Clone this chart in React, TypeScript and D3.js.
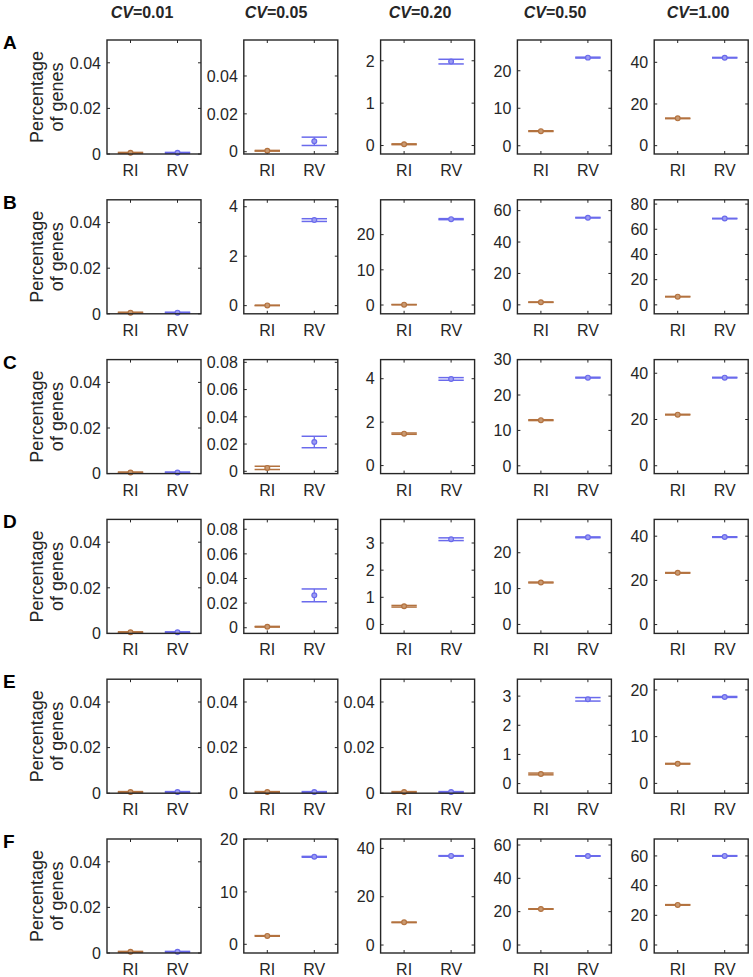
import React from "react";
import * as d3 from "d3";

const rowLetters = ["A", "B", "C", "D", "E", "F"];
const cvLabels = ["0.01", "0.05", "0.20", "0.50", "1.00"];
const categories = ["RI", "RV"];

// y-axis domain per panel [row][col]
const yMin = [
  [0, -0.0012, -0.2, -2.2, -4],
  [0, -0.33, -2.5, -5.7, -7.1],
  [0, -0.0017, -0.37, -2.2, -3.4],
  [0, -0.0046, -0.33, -2.5, -4],
  [0, 0, 0, -0.33, -2.1],
  [0, -1.66, -3.3, -4.8, -5.4],
];
const yMax = [
  [0.05, 0.059, 2.49, 28.2, 50.7],
  [0.05, 4.28, 29.9, 66.9, 83.4],
  [0.05, 0.082, 4.88, 30, 45.9],
  [0.05, 0.088, 3.87, 29.3, 47.6],
  [0.05, 0.05, 0.05, 3.58, 22.3],
  [0.05, 20.1, 43.9, 63.6, 71.4],
];
const yTicks = [
  [[0, 0.02, 0.04], [0, 0.02, 0.04], [0, 1, 2], [0, 10, 20], [0, 20, 40]],
  [[0, 0.02, 0.04], [0, 2, 4], [0, 10, 20], [0, 20, 40, 60], [0, 20, 40, 60, 80]],
  [[0, 0.02, 0.04], [0, 0.02, 0.04, 0.06, 0.08], [0, 2, 4], [0, 10, 20, 30], [0, 20, 40]],
  [[0, 0.02, 0.04], [0, 0.02, 0.04, 0.06, 0.08], [0, 1, 2, 3], [0, 10, 20], [0, 20, 40]],
  [[0, 0.02, 0.04], [0, 0.02, 0.04], [0, 0.02, 0.04], [0, 1, 2, 3], [0, 10, 20]],
  [[0, 0.02, 0.04], [0, 10, 20], [0, 20, 40], [0, 20, 40, 60], [0, 20, 40, 60]],
];

// RI means and half-widths of error bars
const riMean = [
  [0.0005, 0.0005, 0.03, 3.9, 13.1],
  [0.0005, 0.01, 0.1, 1.7, 6.5],
  [0.0005, 0.0025, 1.47, 12.9, 22.1],
  [0.0005, 0.0008, 0.67, 11.7, 23.4],
  [0.0005, 0.0005, 0.0005, 0.33, 4.2],
  [0.0005, 1.6, 9.4, 21.6, 27.0],
];
const riErr = [
  [0.0002, 0.0002, 0.01, 0.1, 0.15],
  [0.0002, 0.01, 0.05, 0.15, 0.2],
  [0.0002, 0.0012, 0.03, 0.12, 0.15],
  [0.0002, 0.0003, 0.03, 0.12, 0.15],
  [0.0002, 0.0002, 0.0002, 0.03, 0.08],
  [0.0002, 0.06, 0.12, 0.15, 0.2],
];
// RV means and half-widths of error bars
const rvMean = [
  [0.0005, 0.0055, 1.98, 23.5, 42.2],
  [0.0005, 3.46, 24.4, 55.5, 68.5],
  [0.0005, 0.0215, 3.99, 24.9, 38.1],
  [0.0005, 0.0263, 3.14, 24.3, 39.6],
  [0.0005, 0.0005, 0.0005, 2.89, 18.5],
  [0.0005, 16.7, 36.9, 53.4, 60.0],
];
const rvErr = [
  [0.0002, 0.0022, 0.055, 0.12, 0.15],
  [0.0002, 0.055, 0.15, 0.2, 0.2],
  [0.0002, 0.0042, 0.06, 0.12, 0.15],
  [0.0002, 0.0052, 0.05, 0.12, 0.15],
  [0.0002, 0.0002, 0.0002, 0.06, 0.1],
  [0.0002, 0.08, 0.12, 0.15, 0.2],
];

const W = 753;
const H = 977;
const boxW = 94;
const boxH = 114;
const colLeft = (c: number) => 107 + c * 136.8;
const rowTop = (r: number) => 40 + r * 159.8;
const titleX = [142, 276, 420, 555, 698];

const colors = ["#b3723f", "#6a6aec"];
const fills = ["#c99a72", "#9d9df2"];
const textColor = "#262626";
const font = "'Liberation Sans', Arial, Helvetica, sans-serif";

function fmt(v: number) {
  if (v === 0) return "0";
  if (Math.abs(v) < 1) return v.toFixed(2);
  return String(v);
}

function Panel({ r, c }: { r: number; c: number }) {
  const left = colLeft(c);
  const top = rowTop(r);
  const x = d3.scaleLinear().domain([0.5, 2.5]).range([left, left + boxW]);
  const y = d3.scaleLinear().domain([yMin[r][c], yMax[r][c]]).range([top + boxH, top]);
  const means = [riMean[r][c], rvMean[r][c]];
  const errs = [riErr[r][c], rvErr[r][c]];
  const tl = 3;
  return (
    <g>
      {yTicks[r][c].map((t, i) => (
        <g key={"yt" + i}>
          <line x1={left} x2={left + tl} y1={y(t)} y2={y(t)} stroke={textColor} strokeWidth={1} />
          <line x1={left + boxW - tl} x2={left + boxW} y1={y(t)} y2={y(t)} stroke={textColor} strokeWidth={1} />
          <text x={left - 6} y={y(t)} dy="0.36em" textAnchor="end" fontSize={16} fill={textColor} fontFamily={font}>
            {fmt(t)}
          </text>
        </g>
      ))}
      {categories.map((cat, i) => (
        <g key={"xt" + i}>
          <line x1={x(i + 1)} x2={x(i + 1)} y1={top} y2={top + tl} stroke={textColor} strokeWidth={1} />
          <line x1={x(i + 1)} x2={x(i + 1)} y1={top + boxH - tl} y2={top + boxH} stroke={textColor} strokeWidth={1} />
          <text x={x(i + 1)} y={top + boxH + 22} textAnchor="middle" fontSize={16} fill={textColor} fontFamily={font}>
            {cat}
          </text>
        </g>
      ))}
      {categories.map((cat, i) => {
        const cx = x(i + 1);
        const lo = y(means[i] - errs[i]);
        const hi = y(means[i] + errs[i]);
        const hw = x(1.27) - x(1);
        return (
          <g key={"eb" + i}>
            <line x1={cx} x2={cx} y1={lo} y2={hi} stroke={colors[i]} strokeWidth={1.3} />
            <line x1={cx - hw} x2={cx + hw} y1={lo} y2={lo} stroke={colors[i]} strokeWidth={1.5} />
            <line x1={cx - hw} x2={cx + hw} y1={hi} y2={hi} stroke={colors[i]} strokeWidth={1.5} />
            <circle cx={cx} cy={y(means[i])} r={2.4} fill={fills[i]} stroke={colors[i]} strokeWidth={1.2} />
          </g>
        );
      })}
      <rect x={left} y={top} width={boxW} height={boxH} fill="none" stroke={textColor} strokeWidth={1.4} />
    </g>
  );
}

export default function App() {
  return (
    <svg width={W} height={H} style={{ position: "absolute", left: 0, top: 0, background: "#fff" }}>
      <rect x={0} y={0} width={W} height={H} fill="#fff" />
      {cvLabels.map((cv, c) => (
        <text key={"t" + c} x={titleX[c]} y={18} textAnchor="middle" fontSize={16} fontWeight="bold" fill={textColor} fontFamily={font}>
          <tspan fontStyle="italic">CV</tspan>
          <tspan>={cv}</tspan>
        </text>
      ))}
      {rowLetters.map((L, r) => (
        <g key={"row" + r}>
          <text x={3} y={rowTop(r) + 9} fontSize={19} fontWeight="bold" fill="#000" fontFamily={font}>
            {L}
          </text>
          <text transform={`translate(43,${rowTop(r) + boxH / 2}) rotate(-90)`} textAnchor="middle" fontSize={18} fill={textColor} fontFamily={font}>
            Percentage
          </text>
          <text transform={`translate(63,${rowTop(r) + boxH / 2}) rotate(-90)`} textAnchor="middle" fontSize={18} fill={textColor} fontFamily={font}>
            of genes
          </text>
          {cvLabels.map((_, c) => (
            <Panel key={"p" + r + "-" + c} r={r} c={c} />
          ))}
        </g>
      ))}
    </svg>
  );
}
